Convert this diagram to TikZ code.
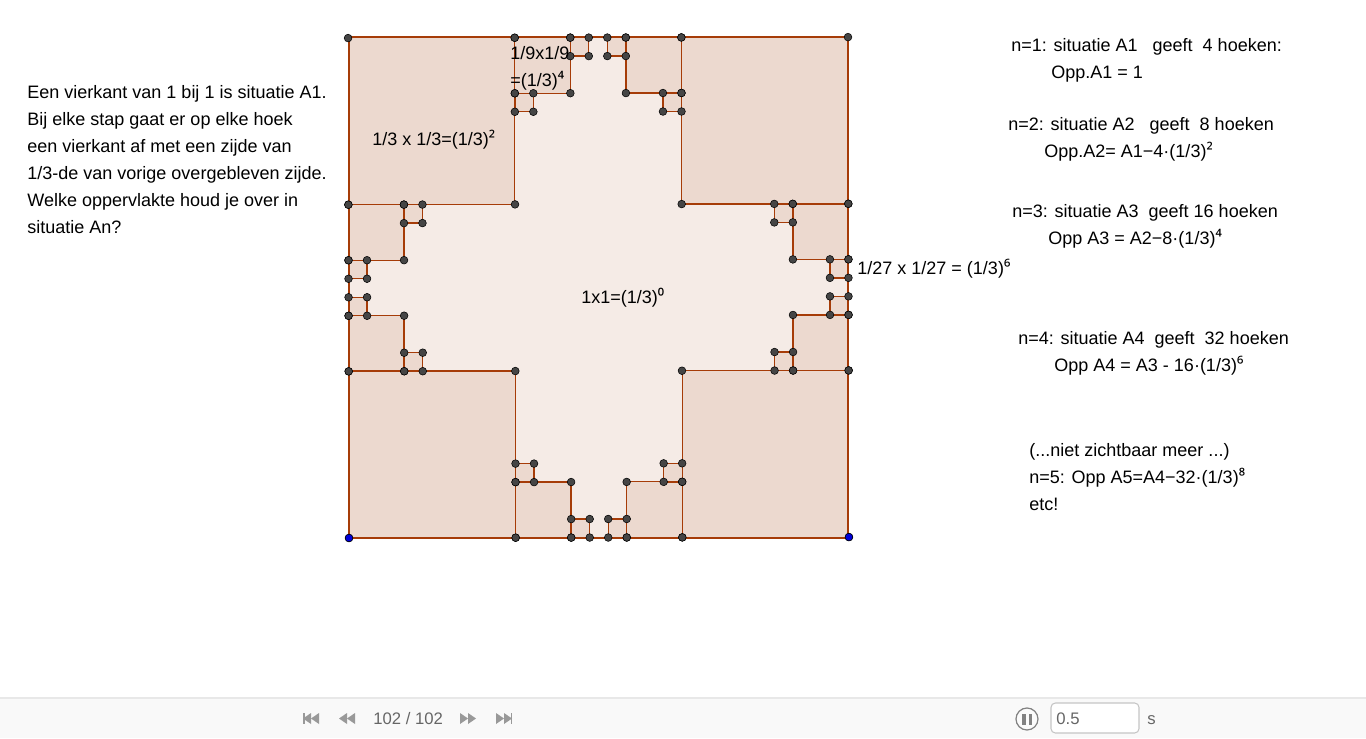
\documentclass[tikz,border=0pt]{standalone}
\usepackage{fontspec}
\setmainfont{Liberation Sans}
\newfontfamily\supfont{Noto Sans}
\definecolor{edgebrown}{HTML}{A63C08}
\definecolor{fillpale}{HTML}{F5EBE6}
\definecolor{filldark}{HTML}{ECD9CF}
\definecolor{dotgrey}{HTML}{454545}
\definecolor{barback}{HTML}{F9F9F9}
\definecolor{barline}{HTML}{E8E8E8}
\definecolor{bargrey}{HTML}{999999}
\definecolor{bartext}{HTML}{666666}
\tikzset{
  txt/.style={anchor=base west,inner sep=0pt,font=\fontsize{10.25}{15.3}\selectfont,text=black},
  bartxt/.style={anchor=base west,inner sep=0pt,font=\fontsize{9.5}{12}\selectfont,text=bartext},
  cornerdot/.style={fill=dotgrey,draw=black,line width=0.3pt},
  baseptdot/.style={fill=blue!85!black,draw=black,line width=0.3pt},
  sq/.style={draw=edgebrown,line width=0.75pt}
}
\newcommand{\cutsquares}{0/0/9,18/0/9,0/18/9,18/18/9,
    0/9/3,0/15/3,24/9/3,24/15/3,9/0/3,15/0/3,9/24/3,15/24/3,
    12/26/1,9/23/1,14/26/1,17/23/1,12/0/1,9/3/1,14/0/1,17/3/1,
    3/17/1,0/14/1,0/12/1,3/9/1,23/17/1,26/14/1,26/12/1,23/9/1}
\begin{document}
\begin{tikzpicture}[x=0.02cm,y=-0.02cm]
\useasboundingbox (0,0) rectangle (1366,738);

% Toolbar
\fill[barback] (0,698) rectangle (1366,738);
\draw[barline,line width=0.6pt] (0,698) -- (1366,698);
\foreach \bx/\bs in {311/-1,347/-1,468/1,504/1} {
    \fill[bargrey] ({\bx-8*\bs},713) -- ({\bx},718.5) -- ({\bx-8*\bs},724) -- cycle;
    \fill[bargrey] ({\bx},713) -- ({\bx+8*\bs},718.5) -- ({\bx},724) -- cycle;
}
\fill[bargrey] (303,713) rectangle (304.5,724);
\fill[bargrey] (510.5,713) rectangle (512,724);
\node[bartxt] (counter) at (373,724) {102 / 102};
\draw[bargrey!85!black,line width=0.7pt,fill=barback!60!white] (1027,719) circle (11);
\fill[bargrey!85!black] (1022,713.5) rectangle (1025.5,724.5);
\fill[bargrey!85!black] (1028.5,713.5) rectangle (1032,724.5);
\draw[barline!85!black,line width=0.6pt,fill=white,rounded corners=2.5pt] (1051,703) rectangle (1139,733);
\node[bartxt] (speed) at (1056,724) {0.5};
\node[bartxt] (unit) at (1147,724) {s};

\begin{scope}[shift={(349,538)},x={(0.3704cm,0.0007cm)},y={(-0.0007cm,0.3704cm)}]
% Whole square
\fill[fillpale] (0,0) rectangle (27,27);
% Cut off squares
\foreach \u/\v/\s in \cutsquares {
    \fill[filldark] (\u,\v) rectangle ({\u+\s},{\v+\s});
}
\foreach \u/\v/\s in \cutsquares {
    \draw[sq] (\u,\v) rectangle ({\u+\s},{\v+\s});
}
\draw[sq] (0,0) rectangle (27,27);
% Corner points
\foreach \u/\v/\s in \cutsquares {
    \foreach \i/\j in {0/0,1/0,0/1,1/1} {
        \filldraw[cornerdot] ({\u+\i*\s},{\v+\j*\s}) circle (2.2pt);
    }
}
\filldraw[baseptdot] (0,0) circle (2.2pt);
\filldraw[baseptdot] (27,0) circle (2.2pt);
\end{scope}

% Labels in the square
\node[txt] (lbmid) at (581,303) {1x1=(1/3){\supfont ⁰}};
\node[txt] (lbthird) at (372,145) {1/3 x 1/3=(1/3){\supfont ²}};
\node[txt] (lbninth) at (510,59) {1/9x1/9};
\node[txt] (lbninthb) at (510,86) {=(1/3){\supfont ⁴}};
\node[txt] (lbsmall) at (857,274) {1/27 x 1/27 = (1/3){\supfont ⁶}};

% Question
\node[txt] (qa) at (27,98) {Een vierkant van 1 bij 1 is situatie A1.};
\node[txt] (qb) at (27,125) {Bij elke stap gaat er op elke hoek};
\node[txt] (qc) at (27,152) {een vierkant af met een zijde van};
\node[txt] (qd) at (27,179) {1/3-de van vorige overgebleven zijde.};
\node[txt] (qe) at (27,206) {Welke oppervlakte houd je over in};
\node[txt] (qf) at (27,233) {situatie An?};

% Steps
\node[txt] (na) at (1011,51) {n=1: situatie A1\ \ \ geeft\ \ 4 hoeken:};
\node[txt] (oa) at (1051,78) {Opp.A1 = 1};
\node[txt] (nb) at (1008,130) {n=2: situatie A2\ \ \ geeft\ \ 8 hoeken};
\node[txt] (ob) at (1044,157) {Opp.A2= A1−4·(1/3){\supfont ²}};
\node[txt] (nc) at (1012,217) {n=3: situatie A3\ \ geeft 16 hoeken};
\node[txt] (oc) at (1048,244) {Opp A3 = A2−8·(1/3){\supfont ⁴}};
\node[txt] (nd) at (1018,344) {n=4: situatie A4\ \ geeft\ \ 32 hoeken};
\node[txt] (od) at (1054,371) {Opp A4 = A3 - 16·(1/3){\supfont ⁶}};
\node[txt] (ne) at (1029,456) {(...niet zichtbaar meer ...)};
\node[txt] (oe) at (1029,483) {n=5: Opp A5=A4−32·(1/3){\supfont ⁸}};
\node[txt] (etc) at (1029,510) {etc!};
\end{tikzpicture}
\end{document}
